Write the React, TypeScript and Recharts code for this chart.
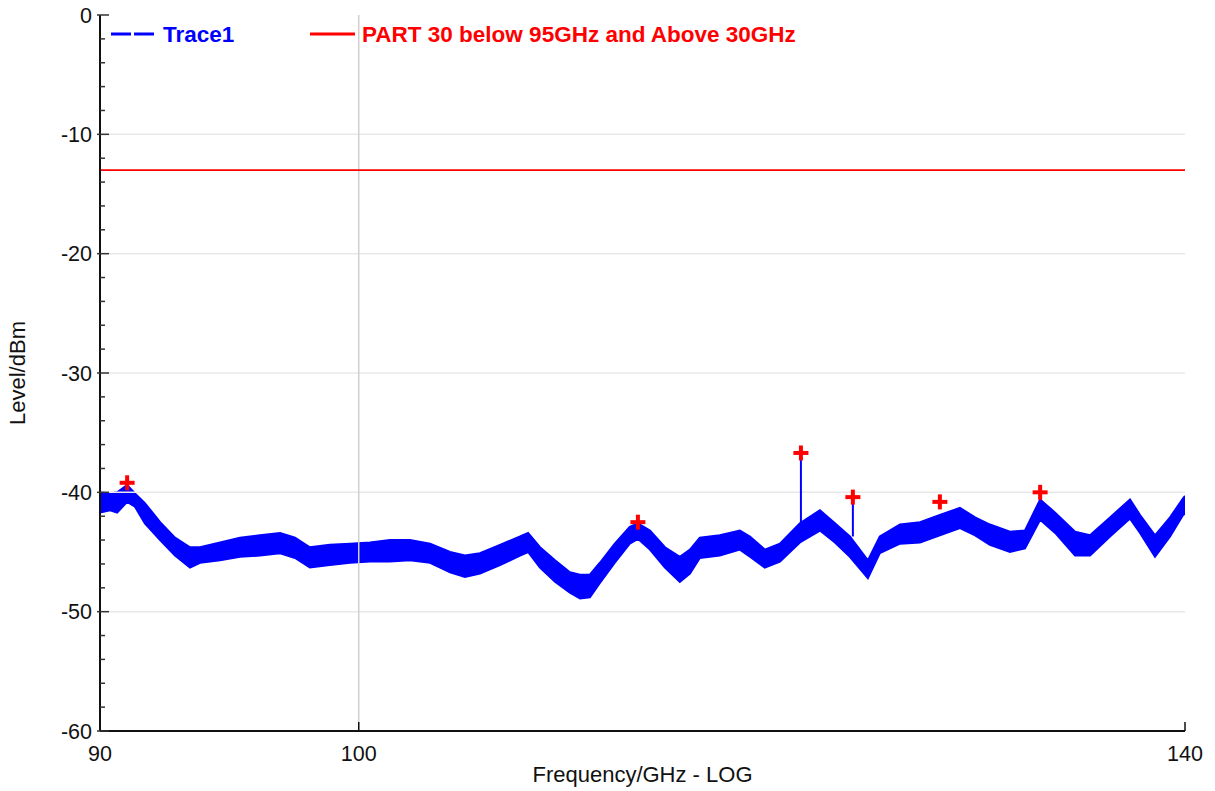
import React from "react";
import { ComposedChart, Area, XAxis, YAxis, ReferenceLine, Scatter } from "recharts";

// trace envelope (upper / lower edge of the noise band)
const freqGHz = [
  90.0, 90.37, 90.63, 91.0, 91.29, 91.66, 92.23, 92.79, 93.36, 93.74,
  94.51, 95.28, 96.06, 96.85, 97.44, 98.03, 98.83, 99.65, 100.46, 101.28,
  102.11, 102.95, 103.79, 104.42, 105.06, 105.92, 106.79, 107.14, 107.66, 108.32,
  108.98, 109.43, 109.87, 110.32, 110.99, 111.67, 112.04, 112.59, 113.28, 113.97,
  114.44, 114.9, 115.84, 116.79, 117.27, 117.98, 118.71, 119.68, 120.66, 121.4,
  122.14, 123.04, 123.64, 124.66, 125.68, 126.7, 127.74, 128.53, 129.31, 130.37,
  131.17, 131.98, 132.79, 133.87, 134.69, 135.79, 136.9, 137.46, 138.3, 139.15,
  139.89, 140.0,
];
const traceHigh = [
  -40.0, -40.1, -40.0, -39.4, -40.1, -40.9, -42.5, -43.8, -44.6, -44.6,
  -44.2, -43.8, -43.6, -43.4, -43.8, -44.6, -44.4, -44.3, -44.2, -44.0,
  -44.0, -44.3, -45.0, -45.3, -45.1, -44.4, -43.7, -43.4, -44.6, -45.7,
  -46.7, -46.9, -46.9, -45.9, -44.3, -42.9, -42.6, -43.2, -44.6, -45.4,
  -44.8, -43.8, -43.6, -43.2, -43.7, -44.8, -44.3, -42.6, -41.5, -42.6,
  -43.7, -45.7, -43.7, -42.7, -42.5, -41.9, -41.3, -42.1, -42.7, -43.3,
  -43.2, -40.6, -41.7, -43.3, -43.6, -42.1, -40.6, -41.9, -43.6, -42.1,
  -40.5, -40.3,
];
const traceLow = [
  -41.7, -41.5, -41.7, -40.8, -41.2, -42.6, -44.0, -45.3, -46.3, -45.9,
  -45.7, -45.4, -45.3, -45.1, -45.5, -46.3, -46.1, -45.9, -45.8, -45.8,
  -45.7, -45.9, -46.7, -47.1, -46.8, -46.1, -45.3, -45.0, -46.3, -47.5,
  -48.4, -48.9, -48.8, -47.6, -45.9, -44.3, -43.9, -44.8, -46.3, -47.5,
  -46.8, -45.5, -45.3, -44.8, -45.4, -46.3, -45.8, -44.2, -43.2, -44.2,
  -45.4, -47.2, -45.1, -44.3, -44.2, -43.6, -43.0, -43.6, -44.4, -45.0,
  -44.7, -42.3, -43.4, -45.3, -45.3, -43.7, -42.2, -43.4, -45.4, -43.7,
  -41.9, -41.8,
];

// narrow spurs sticking out of the band
const spikeFreq = [119.73, 122.29];
const spikeBase = [-42.6, -43.7];
const spikeTop = [-36.7, -40.4];

// peak markers
const markerFreq = [91.0, 112.04, 119.73, 122.29, 126.7, 131.98];
const markerLevel = [-39.2, -42.5, -36.7, -40.4, -40.8, -40.0];

const limitLevel = -13;

const xTicks = [90, 100, 140];
const yTicks = [
  -60, -58, -56, -54, -52, -50, -48, -46, -44, -42, -40, -38, -36, -34, -32, -30,
  -28, -26, -24, -22, -20, -18, -16, -14, -12, -10, -8, -6, -4, -2, 0,
];
const yGrid = [-10, -20, -30, -40, -50];
const xGrid = [100];

const FONT = "'Liberation Sans', Arial, sans-serif";
const BLUE = "#0000ff";
const RED = "#ff0000";

const chartData = freqGHz.map((f, i) => ({ f, band: [traceLow[i], traceHigh[i]] }));
const markerData = markerFreq.map((f, i) => ({ f, level: markerLevel[i] }));

const Y_MARGIN = 8;
const X_MARGIN = 15;

function YTick(props: any) {
  const { x, y, payload } = props;
  const v = payload.value as number;
  const major = v % 10 === 0;
  const axisX = x + Y_MARGIN;
  return (
    <g>
      <line x1={major ? axisX - 3 : axisX} x2={axisX + (major ? 9 : 5)} y1={y} y2={y} stroke="#333" strokeWidth={1.5} />
      {major && (
        <text x={x} y={y} dy="0.36em" textAnchor="end" fontFamily={FONT} fontSize={21.5} fill="#111">
          {v}
        </text>
      )}
    </g>
  );
}

function XTick(props: any) {
  const { x, y, payload } = props;
  const axisY = y - X_MARGIN;
  return (
    <g>
      <line x1={x} x2={x} y1={axisY} y2={axisY - 9} stroke="#111" strokeWidth={1.5} />
      <text x={x} y={y} dy="0.72em" textAnchor="middle" fontFamily={FONT} fontSize={21.5} fill="#111">
        {payload.value}
      </text>
    </g>
  );
}

function CrossMarker(props: any) {
  const { cx, cy } = props;
  return (
    <g>
      <line x1={cx - 7.5} x2={cx + 7.5} y1={cy} y2={cy} stroke={RED} strokeWidth={4} />
      <line x1={cx} x2={cx} y1={cy - 7.5} y2={cy + 7.5} stroke={RED} strokeWidth={4} />
    </g>
  );
}

export default function App() {
  return (
    <div style={{ position: "absolute", left: 0, top: 0, width: 1215, height: 791, background: "#fff" }}>
      <ComposedChart width={1215} height={791} data={chartData} margin={{ top: 15, right: 30, bottom: 0, left: 0 }}>
        <XAxis
          dataKey="f"
          type="number"
          scale="log"
          domain={[90, 140]}
          allowDataOverflow
          ticks={xTicks}
          interval={0}
          height={60}
          tickSize={0}
          tickMargin={X_MARGIN}
          tick={<XTick />}
          axisLine={{ stroke: "#111", strokeWidth: 2 }}
          label={{
            content: (p: any) => {
              const vb = p.viewBox || {};
              return (
                <text x={vb.x + vb.width / 2} y={vb.y + 51} textAnchor="middle" fontFamily={FONT} fontSize={22} fill="#111">
                  Frequency/GHz - LOG
                </text>
              );
            },
          }}
        />
        <XAxis
          xAxisId="top"
          orientation="top"
          type="number"
          scale="log"
          domain={[90, 140]}
          allowDataOverflow
          height={0}
          tick={false}
          tickLine={false}
          axisLine={{ stroke: "#222", strokeWidth: 2 }}
        />
        <YAxis
          type="number"
          domain={[-60, 0]}
          ticks={yTicks}
          interval={0}
          width={100}
          tickSize={0}
          tickMargin={Y_MARGIN}
          tick={<YTick />}
          axisLine={{ stroke: "#111", strokeWidth: 2 }}
          label={{
            content: (p: any) => {
              const vb = p.viewBox || {};
              const cx = vb.x + 17;
              const cy = vb.y + vb.height / 2;
              return (
                <text
                  x={cx}
                  y={cy}
                  transform={`rotate(-90, ${cx}, ${cy})`}
                  textAnchor="middle"
                  dominantBaseline="central"
                  fontFamily={FONT}
                  fontSize={22}
                  fill="#111"
                >
                  Level/dBm
                </text>
              );
            },
          }}
        />
        <YAxis
          yAxisId="right"
          orientation="right"
          type="number"
          domain={[-60, 0]}
          width={0}
          tick={false}
          tickLine={false}
          axisLine={{ stroke: "#555", strokeWidth: 2 }}
        />

        {yGrid.map((v) => (
          <ReferenceLine key={`gy${v}`} y={v} stroke="#e8e8e8" strokeWidth={1.5} />
        ))}
        {xGrid.map((v) => (
          <ReferenceLine key={`gx${v}`} x={v} stroke="#d0d0d0" strokeWidth={1.5} />
        ))}
        <ReferenceLine y={limitLevel} stroke={RED} strokeWidth={1.6} />

        <Area
          type="linear"
          dataKey="band"
          stroke={BLUE}
          strokeWidth={2}
          fill={BLUE}
          fillOpacity={1}
          dot={false}
          activeDot={false}
          isAnimationActive={false}
        />

        {spikeFreq.map((f, i) => (
          <ReferenceLine
            key={`sp${i}`}
            segment={[
              { x: f, y: spikeBase[i] },
              { x: f, y: spikeTop[i] },
            ]}
            stroke={BLUE}
            strokeWidth={2}
          />
        ))}

        <Scatter data={markerData} dataKey="level" shape={<CrossMarker />} isAnimationActive={false} />
      </ComposedChart>

      <svg width={1215} height={60} style={{ position: "absolute", left: 0, top: 0, pointerEvents: "none" }}>
        <line x1={111} x2={155} y1={34} y2={34} stroke={BLUE} strokeWidth={3} strokeDasharray="20 3" />
        <text x={163} y={42} fontFamily={FONT} fontSize={22.5} fontWeight="bold" fill={BLUE}>
          Trace1
        </text>
        <line x1={310} x2={355} y1={34} y2={34} stroke={RED} strokeWidth={3} />
        <text x={362} y={42} fontFamily={FONT} fontSize={22.5} fontWeight="bold" fill={RED}>
          PART 30 below 95GHz and Above 30GHz
        </text>
      </svg>
    </div>
  );
}
